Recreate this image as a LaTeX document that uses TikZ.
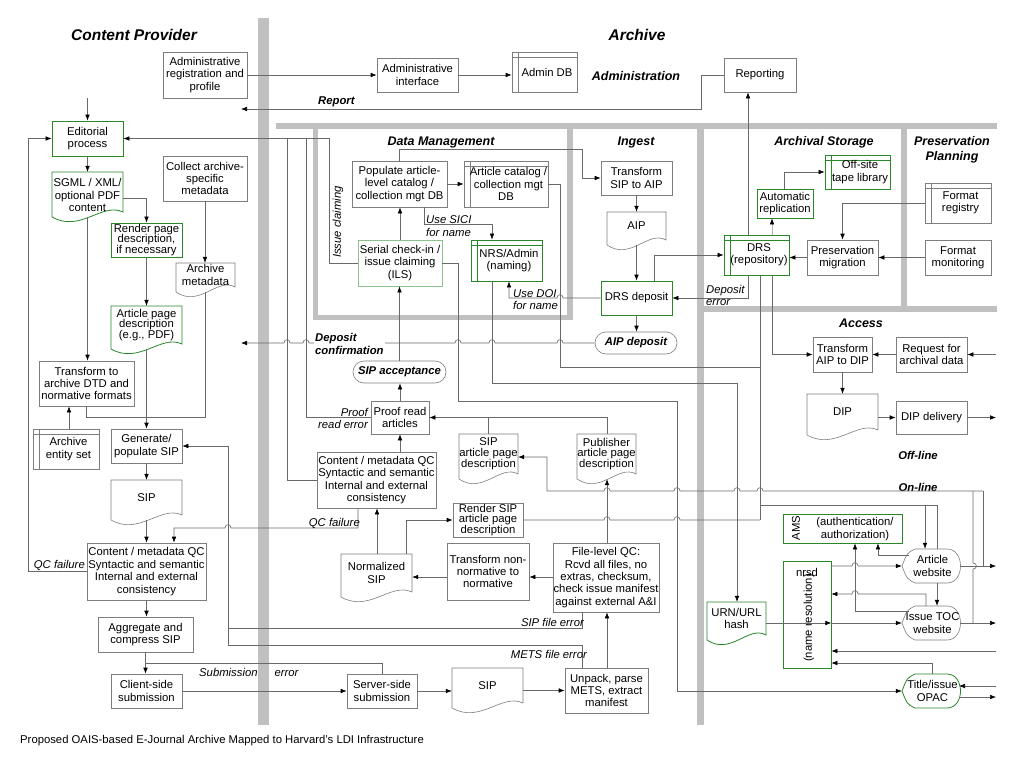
\documentclass[tikz,border=0pt]{standalone}
\usepackage{fontspec}
\setmainfont{Liberation Sans}
\usetikzlibrary{arrows.meta,calc}
\definecolor{boxc}{RGB}{125,125,125}
\definecolor{linec}{RGB}{105,105,105}
\definecolor{greenc}{RGB}{40,135,40}
\definecolor{lgreenc}{RGB}{140,195,140}
\definecolor{barc}{RGB}{192,192,192}
\newcommand\bodyf{\fontsize{11.3}{12.4}\selectfont}
\newcommand\tightf{\fontsize{11.3}{10.8}\selectfont}
% box: [style]{name}{x1}{y1}{x2}{y2}{text}
\newcommand\bx[7][]{\node[box,#1,minimum width={(#5-#3)*1pt},minimum height={(#6-#4)*1pt}] (#2) at ({(#3+#5)/2},{(#4+#6)/2}) {#7};}
% document: [drawstyle]{name}{x1}{y1}{x2}{ybottom}{textstyle}{text}
\newcommand\dc[8][docl]{%
 \draw[#1] (#3,{#6-5}) -- (#3,#4) -- (#5,#4) -- (#5,{#6-10}) .. controls ({#5-0.3*(#5-#3)},{#6-20}) and ({#3+0.4*(#5-#3)},{#6+11}) .. (#3,{#6-5}) -- cycle;
 \node[ab,minimum width={(#5-#3)*1pt},minimum height={(#6-5-#4)*1pt}] (#2) at ({(#3+#5)/2},{(#4+#6-5)/2}) {};
 \node[txt,#7] at ({(#3+#5)/2},{(#4+#6-10)/2}) {#8};}
% display shape: [style]{name}{x1}{y1}{x2}{y2}{text}
\newcommand\dsp[7][]{%
 \draw[#1] ({#3+13},#4) -- ({#5-14},#4) .. controls ({#5+4},#4) and ({#5+4},#6) .. ({#5-14},#6) -- ({#3+13},#6) .. controls ({#3+5},{#6-4}) .. (#3,{(#4+#6)/2}) .. controls ({#3+5},{#4+4}) .. ({#3+13},#4) -- cycle;
 \node[ab,minimum width={(#5-#3)*1pt},minimum height={(#6-#4)*1pt}] (#2) at ({(#3+#5)/2},{(#4+#6)/2}) {};
 \node[txt] at ({(#3+#5)/2+1},{(#4+#6)/2}) {#7};}
% line jumps
\newcommand\hjl[2]{-- ({#1+3},#2) .. controls ({#1+3},{#2-4.5}) and ({#1-3},{#2-4.5}) .. ({#1-3},#2)}
\newcommand\hjr[2]{-- ({#1-3},#2) .. controls ({#1-3},{#2-4.5}) and ({#1+3},{#2-4.5}) .. ({#1+3},#2)}
\begin{document}
\begin{tikzpicture}[x=1pt,y=-1pt,
 box/.style={draw=boxc,line width=.6pt,inner sep=.5pt,align=center,font=\bodyf},
 gbox/.style={box,draw=greenc,line width=.8pt},
 txt/.style={inner sep=0,align=center,font=\bodyf},
 lbl/.style={inner sep=0,align=left,font=\bodyf\itshape},
 blbl/.style={inner sep=0,align=left,font=\bodyf\bfseries\itshape},
 ttl/.style={inner sep=0,font=\fontsize{15.5}{18}\selectfont\bfseries\itshape},
 sub/.style={inner sep=0,align=center,font=\fontsize{12.5}{15}\selectfont\bfseries\itshape},
 con/.style={draw=linec,line width=.6pt},
 arr/.style={con,-{Latex[length=6pt,width=4.6pt,color=black]}},
 docl/.style={draw=boxc,line width=.6pt},
 gdocl/.style={draw=greenc,line width=.8pt},
 ab/.style={inner sep=0,draw=none},
 db/.style={path picture={\draw[line width=.6pt,#1] ([yshift=-5pt]path picture bounding box.north west) -- ([yshift=-5pt]path picture bounding box.north east) ([xshift=6pt]path picture bounding box.north west) -- ([xshift=6pt]path picture bounding box.south west);}},
 stad/.style={rounded corners=11pt,font=\bodyf\bfseries\itshape}
]
\fill[white] (0,0) rectangle (1024,768);
\useasboundingbox (0,0) rectangle (1024,768);

% ---------- grey bars
\fill[barc] (258,18) rectangle (269,725);
\fill[barc] (276,123) rectangle (997,129);
\fill[barc] (313,129) rectangle (318,320);
\fill[barc] (567,129) rectangle (573,320);
\fill[barc] (313,315) rectangle (573,320);
\fill[barc] (697,129) rectangle (704,725);
\fill[barc] (901,129) rectangle (907,307);
\fill[barc] (704,306) rectangle (997,312);

% ---------- titles
\node[ttl] (tcp) at (134,35) {Content Provider};
\node[ttl] (tar) at (637,35) {Archive};
\node[sub] (tadm) at (636,76) {Administration};
\node[sub] (tdm) at (441,142) {Data Management};
\node[sub] (ting) at (636,142) {Ingest};
\node[sub] (tas) at (824,142) {Archival Storage};
\node[sub] (tpp) at (952,150) {Preservation\\Planning};
\node[sub] (tacc) at (861,323) {Access};
\node[blbl] (toff) at (918,455) {Off-line};
\node[blbl] (ton) at (918,487) {On-line};
\node[txt,anchor=west] (cap) at (20,741) {Proposed OAIS-based E-Journal Archive Mapped to Harvard's LDI Infrastructure};

% ---------- Content provider nodes
\bx{adminreg}{163}{52}{247}{98}{Administrative\\registration and\\profile}
\bx[gbox]{edit}{52}{121}{123}{156}{Editorial\\process}
\dc[gdocl]{sgml}{52}{172}{123}{222}{yshift=-3pt}{SGML / XML/\\optional PDF\\content}
\bx{collect}{163}{156}{247}{201}{Collect archive-\\specific\\metadata}
\bx[gbox,font=\tightf]{render}{111}{223}{182}{257}{Render page\\description,\\if necessary}
\dc{archmeta}{176}{263}{235}{297}{}{Archive\\metadata}
\dc[gdocl]{artpage}{111}{306}{182}{354}{font=\tightf}{Article page\\description\\(e.g., PDF)}
\bx{transdtd}{39}{361}{134}{406}{Transform to\\archive DTD and\\normative formats}
\bx[db=boxc]{entity}{33}{429}{99}{469}{\hspace{5pt}Archive\\\hspace{5pt}entity set}
\bx{gensip}{111}{429}{182}{463}{Generate/\\populate SIP}
\dc{sip1}{111}{480}{182}{525}{}{SIP}
\bx{qc1}{87}{543}{206}{600}{Content / metadata QC\\Syntactic and semantic\\Internal and external\\consistency}
\bx{aggr}{98}{617}{193}{652}{Aggregate and\\compress SIP}
\bx{client}{111}{674}{182}{708}{Client-side\\submission}

% ---------- Administration
\bx{adminif}{377}{58}{458}{92}{Administrative\\interface}
\bx[db=boxc]{admindb}{512}{52}{577}{92}{\hspace{5pt}Admin DB}
\bx{reporting}{724}{58}{796}{92}{Reporting}

% ---------- Data management
\bx{populate}{352}{161}{447}{207}{Populate article-\\level catalog /\\collection mgt DB}
\bx[db=boxc]{artcat}{464}{161}{548}{207}{\hspace{5pt}Article catalog /\\\hspace{5pt}collection mgt\\DB}
\bx[draw=lgreenc,line width=.8pt]{serial}{358}{240}{442}{286}{Serial check-in /\\issue claiming\\(ILS)}
\bx[gbox,db=greenc]{nrs}{471}{240}{542}{281}{\hspace{5pt}NRS/Admin\\\hspace{5pt}(naming)}

% ---------- Ingest
\bx{sip2aip}{601}{161}{672}{195}{Transform\\SIP to AIP}
\dc{aip}{607}{212}{666}{250}{}{AIP}
\bx[gbox]{drsdep}{601}{281}{672}{315}{DRS deposit}
\bx[stad]{aipdep}{595}{332}{677}{354}{AIP deposit}

% ---------- Middle column
\bx[stad]{sipacc}{353}{361}{446}{383}{SIP acceptance}
\bx{proof}{371}{401}{429}{434}{Proof read\\articles}
\bx{qc2}{317}{452}{436}{508}{Content / metadata QC\\Syntactic and semantic\\Internal and external\\consistency}
\dc{sipapd}{459}{434}{518}{484}{font=\tightf}{SIP\\article page\\description}
\dc{pubapd}{577}{434}{636}{484}{font=\tightf}{Publisher\\article page\\description}
\bx[font=\tightf]{rendersip}{453}{503}{523}{537}{Render SIP\\article page\\description}
\dc{normsip}{341}{554}{412}{602}{}{Normalized\\SIP}
\bx{transnon}{447}{543}{529}{600}{Transform non-\\normative to\\normative}
\bx{fileqc}{553}{543}{659}{612}{File-level QC:\\Rcvd all files, no\\extras, checksum,\\check issue manifest\\against external A\&I}
\bx{server}{347}{674}{417}{708}{Server-side\\submission}
\dc{sip3}{452}{668}{523}{713}{}{SIP}
\bx{unpack}{565}{668}{648}{713}{Unpack, parse\\METS, extract\\manifest}

% ---------- Archival storage / preservation planning
\bx[gbox,db=greenc]{offsite}{825}{155}{890}{189}{\hspace{5pt}Off-site\\\hspace{5pt}tape library}
\bx[gbox]{autorep}{757}{189}{813}{218}{Automatic\\replication}
\bx[gbox,db=greenc]{drs}{724}{235}{789}{275}{\hspace{5pt}DRS\\\hspace{5pt}(repository)}
\bx{presmig}{807}{240}{878}{275}{Preservation\\migration}
\bx[db=boxc]{fmtreg}{925}{183}{991}{223}{\hspace{5pt}Format\\\hspace{5pt}registry}
\bx{fmtmon}{925}{240}{991}{275}{Format\\monitoring}

% ---------- Access
\bx{aip2dip}{813}{337}{872}{372}{Transform\\AIP to DIP}
\bx{request}{896}{337}{967}{372}{Request for\\archival data}
\dc{dip}{807}{394}{878}{440}{}{DIP}
\bx{dipdel}{896}{401}{967}{434}{DIP delivery}
\bx[gbox]{ams}{783}{514}{902}{543}{}
\node[txt] (amst) at (855,529) {(authentication/\\authorization)};
\node[txt,rotate=90] (amsl) at (796,528) {AMS};
\bx[gbox]{nrsd}{783}{561}{831}{668}{}
\node[txt] (nrsdt) at (807,572) {nrsd};
\node[txt,rotate=90] (nrsdl) at (809,618) {(name resolution)};
\dc[gdocl]{urn}{707}{602}{766}{645}{}{URN/URL\\hash}
\dsp[docl]{artweb}{902}{549}{961}{583}{Article\\website}
\dsp[docl]{issuetoc}{902}{606}{961}{640}{Issue TOC\\website}
\dsp[gdocl]{opac}{902}{674}{961}{708}{Title/issue\\OPAC}

% ---------- free ends
\coordinate (editin) at (87.5,98);
\coordinate (reportend) at (241,109);
\coordinate (depconf) at (241,343);
\coordinate (reqin) at (996,354.5);
\coordinate (dipout) at (996,417.5);
\coordinate (awout) at (996,566);
\coordinate (itout) at (996,623);
\coordinate (nrsdin) at (996,651);
\coordinate (opacin) at (996,686);
\coordinate (opacout) at (996,697);

% ---------- connectors: content provider
\draw[arr] (editin) -- (edit.north);
\draw[arr] (edit.south) -- (sgml.north);
\draw[arr] (sgml.east |- 0,198) -| (render.north);
\draw[arr] (sgml.south) -- (sgml.south |- transdtd.north);
\draw[arr] (render.south) -- (artpage.north);
\draw[arr] (collect.south) -- (collect.south |- archmeta.north);
\draw[con] (transdtd.south) |- (archmeta.south |- 0,417) -- (archmeta.south);
\draw[arr] (artpage.south) -- (gensip.north);
\draw[arr] (69,0 |- entity.north) -- (69,0 |- transdtd.south);
\draw[arr] (gensip.south) -- (sip1.north);
\draw[arr] (sip1.south) -- (sip1.south |- qc1.north);
\draw[arr] (qc1.south) -- (qc1.south |- aggr.north);
\draw[arr] (aggr.south) -- (aggr.south |- client.north);
\draw[arr] (client.east) -- (server.west);
\draw[arr] (qc1.west) -| (28,0 |- edit.west) -- (edit.west);
\node[lbl,anchor=base east] (lqc1) at (85,568) {QC failure};

% ---------- administration
\draw[arr] (adminreg.east) -- (adminif.west);
\draw[arr] (adminif.east) -- (adminif.east -| admindb.west);
\draw[arr] (reporting.west) -| (701,109) -- (reportend);
\node[blbl,anchor=west] (lrep) at (318,102) {Report};
\draw[arr] (748,0 |- drs.north) -- (748,0 |- reporting.south);

% ---------- data management
\draw[arr] (populate.east) -- (artcat.west);
\draw[arr] (424,0 |- populate.south) |- (492,224) -- (492,0 |- nrs.north);
\node[lbl,anchor=west] (lsici) at (426,226) {Use SICI\\for name};
\draw[arr] (399,0 |- populate.north) |- (582,149) |- (sip2aip.west);
\draw[arr] (serial.north) -- (serial.north |- populate.south);
\draw[arr] (serial.west) -| (329,0 |- edit.east) -- (edit.east);
\node[lbl,rotate=90] (lissue) at (338,222) {Issue claiming};
\draw[con] (proof.west) -| (306,0 |- edit.east);
\node[lbl,anchor=east,align=right] (lproof) at (368,418.5) {Proof\\read error};
\draw[con] (qc2.west) -| (287,0 |- edit.east);

% ---------- middle
\draw[arr] (sipacc.north) -- (sipacc.north |- serial.south);
\draw[arr] (proof.north) -- (proof.north |- sipacc.south);
\draw[arr] (proof.south |- qc2.north) -- (proof.south);
\draw[arr] (607,0 |- pubapd.north) |- (proof.east);
\draw[con] (488,0 |- sipapd.north) -- (488,0 |- proof.east);
\draw[arr] (358,0 |- qc2.south) -- (358,528) \hjl{228}{528} -- (174,528) -- (174,0 |- qc1.north);
\node[lbl,anchor=base east] (lqc2) at (360,526) {QC failure};
\draw[arr] (377,0 |- normsip.north) -- (377,0 |- qc2.south);
\draw[arr] (406,0 |- normsip.north) |- (rendersip.west);
\draw[arr] (fileqc.west |- 0,577) -- (transnon.east |- 0,577);
\draw[arr] (transnon.west |- 0,577) -- (normsip.east |- 0,577);
\draw[arr] (607,0 |- fileqc.north) -- (607,0 |- pubapd.south);
\draw[arr] (582,0 |- fileqc.south) |- (228,628) |- (gensip.east);
\node[lbl,anchor=base east] (lsipe) at (584,626) {SIP file error};
\draw[con] (582,0 |- unpack.north) |- (228,645) -- (228,628);
\node[lbl,anchor=base east] (lmets) at (587,658) {METS file error};
\draw[con] (server.north) |- (aggr.south |- 0,663);
\node[lbl,anchor=base west] (lsub) at (199,676) {Submission\hspace{17pt}error};
\draw[arr] (server.east) -- (server.east -| sip3.west);
\draw[arr] (unpack.west -| sip3.east) -- (unpack.west);
\draw[arr] (607,0 |- unpack.north) -- (607,0 |- fileqc.south);

% ---------- ingest
\draw[arr] (sip2aip.south) -- (sip2aip.south |- aip.north);
\draw[arr] (aip.south) -- (aip.south |- drsdep.north);
\draw[arr] (drsdep.south) -- (drsdep.south |- aipdep.north);
\draw[arr] (654,0 |- drsdep.north) |- (drs.west);
\draw[arr] (748,0 |- drs.south) |- (drsdep.east);
\node[lbl,anchor=west] (ldep) at (706,295.5) {Deposit\\error};
\draw[arr] (drsdep.west) \hjl{560}{298} -- (509,298) -- (509,0 |- nrs.south);
\node[lbl,anchor=west] (ldoi) at (513,299.5) {Use DOI\\for name};
\draw[arr] (aipdep.west) \hjl{560}{343} \hjl{492}{343} \hjl{458}{343} \hjl{306}{343} \hjl{287}{343} -- (depconf);
\node[blbl,fill=white,inner sep=1pt,anchor=west] (ldc) at (314,344) {Deposit\\confirmation};

% ---------- archival storage / preservation planning
\draw[arr,draw=gray!60] (772,0 |- drs.north) -- (772,0 |- autorep.south);
\draw[arr] (784,0 |- autorep.north) |- (offsite.west);
\draw[arr] (fmtreg.west) -| (presmig.north);
\draw[arr] (fmtmon.west) -- (presmig.east);
\draw[arr] (presmig.west) -- (presmig.west -| drs.east);

% ---------- access
\draw[arr] (772,0 |- drs.south) |- (aip2dip.west);
\draw[arr] (request.west) -- (aip2dip.east);
\draw[arr] (reqin) -- (request.east);
\draw[arr] (aip2dip.south) -- (aip2dip.south |- dip.north);
\draw[arr] (dip.east |- dipdel.west) -- (dipdel.west);
\draw[arr] (dipdel.east) -- (dipout);

% ---------- long cross lines
\draw[con] (artcat.east) -| (560,367) -- (760,367);
\draw[con] (760,0 |- drs.south) -- (760,520);
\draw[con] (rendersip.east) \hjr{607}{520} \hjr{677}{520} -- (760,520);
\draw[con] (760,505) -| (937,0 |- artweb.north);
\draw[arr] (925,505) -- (925,0 |- artweb.north);
\draw[arr] (983,491) \hjl{760}{491} \hjl{737}{491} \hjl{677}{491} \hjl{607}{491} -- (547,491) -- (547,457) -- (sipapd.east |- 0,457);
\draw[con] (983,491) -- (983,566);
\draw[con] (973,491) -- (973,563) .. controls (977.5,563) and (977.5,569) .. (973,569) -- (973,0 |- issuetoc.east);
\draw[arr] (serial.east) -| (458,401) -- (677,401) -- (677,0 |- opac.west) -- (opac.west);
\draw[arr] (492,0 |- nrs.south) |- (737,383) -- (737,0 |- urn.north);

% ---------- on-line services
\draw[arr] (urn.east |- 0,623) -- (nrsd.east |- 0,623) ;
\draw[arr] (nrsd.east |- 0,566) \hjr{855}{566} -- (artweb.west);
\draw[arr] (nrsd.east |- 0,623) -- (issuetoc.west);
\draw[arr] (926,0 |- issuetoc.north) -- (926,594) \hjl{855}{594} -- (nrsd.east |- 0,594);
\draw[arr] (909,611) -| (855,0 |- ams.south);
\draw[arr] (909,555) -| (878,0 |- ams.south);
\draw[arr] (937,0 |- artweb.south) -- (937,0 |- issuetoc.north);
\draw[arr] (artweb.east) -- (awout);
\draw[arr] (issuetoc.east) -- (itout);
\draw[arr] (nrsdin) -- (nrsd.east |- nrsdin);
\draw[arr] (932,0 |- opac.north) |- (nrsd.east |- 0,663);
\draw[arr] (opacin) -- (959,686);
\draw[arr] (959,697) -- (opacout);
\end{tikzpicture}
\end{document}
